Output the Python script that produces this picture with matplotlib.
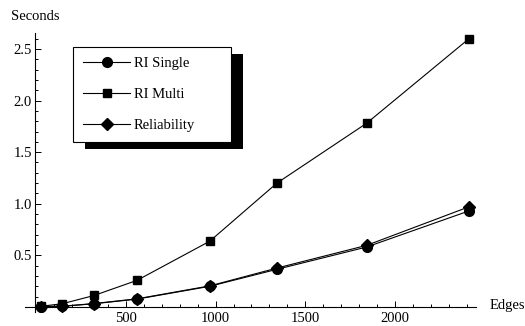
import matplotlib
matplotlib.use('Agg')
import matplotlib.pyplot as plt
from matplotlib.patches import Rectangle
from matplotlib.ticker import MultipleLocator

edges = [24, 145, 322, 562, 967, 1342, 1842, 2413]
ri_single = [0.003, 0.005, 0.03, 0.075, 0.199, 0.364, 0.58, 0.93]
ri_multi = [0.005, 0.03, 0.11, 0.257, 0.636, 1.20, 1.78, 2.60]
reliability = [0.003, 0.006, 0.032, 0.078, 0.203, 0.376, 0.596, 0.97]

plt.rcParams['font.family'] = 'Liberation Serif'
plt.rcParams['font.size'] = 10.5

fig = plt.figure(figsize=(5.25, 3.26), dpi=100)
ax = fig.add_axes([25/525, 14/326, 451/525, 279/326])

ax.plot(edges, ri_single, color='black', lw=0.8, marker='o', ms=7, label='RI Single')
ax.plot(edges, ri_multi, color='black', lw=0.8, marker='s', ms=5.5, label='RI Multi')
ax.plot(edges, reliability, color='black', lw=0.8, marker='D', ms=6, label='Reliability')

ax.set_xlim(-63, 2452)
ax.set_ylim(-0.05, 2.655)

# axes crossing near the origin
for s in ['top', 'right']:
    ax.spines[s].set_visible(False)
ax.spines['left'].set_position(('data', -10))
ax.spines['bottom'].set_position(('data', 0))
for s in ['left', 'bottom']:
    ax.spines[s].set_linewidth(0.8)

ax.xaxis.set_major_locator(MultipleLocator(500))
ax.xaxis.set_minor_locator(MultipleLocator(100))
ax.yaxis.set_major_locator(MultipleLocator(0.5))
ax.yaxis.set_minor_locator(MultipleLocator(0.1))
ax.tick_params(which='both', direction='in', width=0.7, labelsize=10.5)
ax.tick_params(which='major', length=4.5)
ax.tick_params(which='minor', length=2.5)
ax.tick_params(axis='x', pad=3.5)
ax.tick_params(axis='y', pad=2)
ax.set_xticks([500, 1000, 1500, 2000])
ax.set_xticklabels(['500', '1000', '1500', '2000'])
ax.set_yticks([0.5, 1.0, 1.5, 2.0, 2.5])
ax.set_yticklabels(['0.5', '1.0', '1.5', '2.0', '2.5'])

fig.text(11/525, 1 - 16/326, 'Seconds', ha='left', va='center', fontsize=10.5)
fig.text(490/525, 1 - 306/326, 'Edges', ha='left', va='center', fontsize=10.5)

leg = ax.legend(loc='upper left', mode='expand',
                bbox_to_anchor=(73/525, 1 - 47/326, 158/525, 0.0001),
                bbox_transform=fig.transFigure,
                handlelength=3.2, handletextpad=0.25, labelspacing=1.2,
                borderpad=0.7, borderaxespad=0, fancybox=False,
                edgecolor='black', framealpha=1, fontsize=10.5)
leg.get_frame().set_linewidth(0.8)
leg.set_zorder(5)

fig.canvas.draw()
bb = leg.get_window_extent()
shadow = Rectangle((bb.x0 + 12, bb.y0 - 7), bb.width, bb.height,
                   transform=None, facecolor='black', edgecolor='none',
                   zorder=4, clip_on=False)
ax.add_artist(shadow)

fig.savefig('out.png', dpi=100)
